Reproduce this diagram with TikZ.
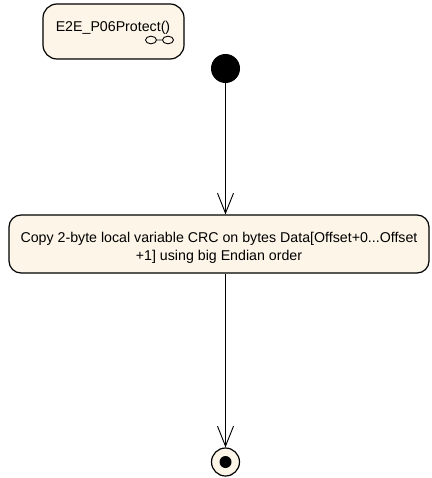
\documentclass[tikz,border=0pt]{standalone}
\usepackage{fontspec}
\setmainfont{Liberation Sans}
\usetikzlibrary{positioning, arrows.meta}
\definecolor{umlfill}{RGB}{253,245,232}
\tikzset{
  activity/.style={rectangle, rounded corners=14bp, minimum width=141bp, minimum height=55bp, draw=black, fill=umlfill, line width=1.2bp},
  action/.style={rectangle, rounded corners=12bp, minimum width=420bp, minimum height=58bp, draw=black, fill=umlfill, line width=1.2bp},
  initial/.style={circle, minimum size=29bp, inner sep=0pt, fill=black},
  final/.style={circle, minimum size=28bp, inner sep=0pt, draw=black, fill=umlfill, line width=1.2bp},
  finaldot/.style={circle, minimum size=12bp, inner sep=0pt, fill=black},
  arrow/.style={line width=0.9bp, -{Straight Barb[length=20bp, width=16bp, line width=0.9bp]}}
}

\begin{document}
\begin{tikzpicture}[
    x=1bp, y=-1bp,
    every node/.style={font=\fontsize{14.2bp}{18.5bp}\selectfont}
]
    \useasboundingbox (0,0) rectangle (431,478);
    \node (proc) [activity] at (113.5,31.5) {};
    \node (proctitle) at (113,27.5) {E2E\_P06Protect()};
    \draw [line width=0.9bp] (151,40) ellipse [x radius=5.5, y radius=3.8]
        (156.5,40) -- (162.5,40)
        (168,40) ellipse [x radius=5.5, y radius=3.8];
    \node (start) [initial] at (225.5,68.5) {};
    \node (copy) [action] at (219,244) {};
    \node (copytext) [align=center, text centered] at (219,248) {Copy 2-byte local variable CRC on bytes Data[Offset+0...Offset\\ +1] using big Endian order};
    \node (stop) [final] at (225.5,462) {};
    \node (stopdot) [finaldot] at (stop) {};

    \draw [arrow] (start) -- (start |- copy.north);
    \draw [arrow] (copy.south -| stop) -- (stop);
\end{tikzpicture}
\end{document}
